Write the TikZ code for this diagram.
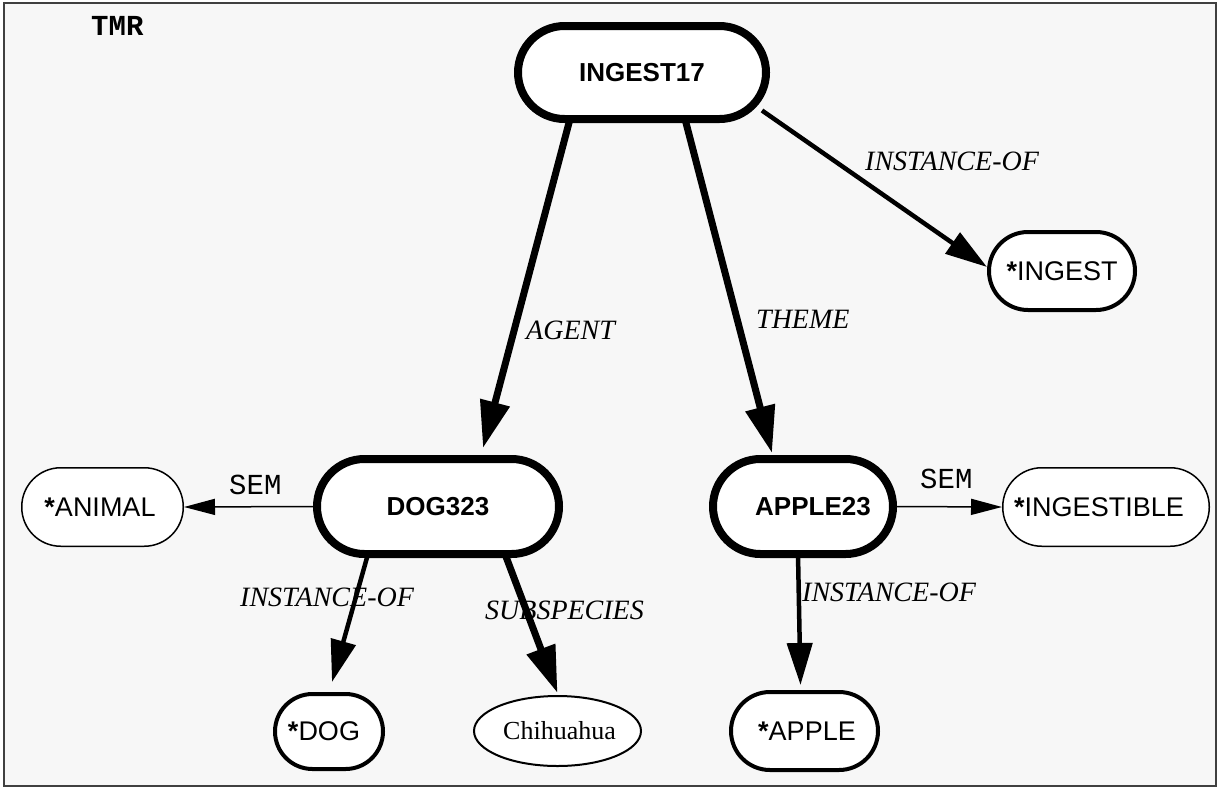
\documentclass[tikz,border=0pt]{standalone}
\usepackage{fontspec}
\setmainfont{Liberation Serif}
\setsansfont{Liberation Sans}
\setmonofont{Liberation Mono}
\usetikzlibrary{shapes.geometric,arrows.meta}

\definecolor{panel}{HTML}{F7F7F7}

\begin{document}
\begin{tikzpicture}[x=1pt,y=-1pt,
  every node/.style={inner sep=0pt},
  % concept boxes (stadium shapes)
  event/.style={rectangle, draw, fill=white, line width=8pt,
    font=\fontsize{26}{30}\selectfont\sffamily\bfseries},
  concept/.style={rectangle, draw, fill=white, line width=4pt,
    font=\fontsize{27}{30}\selectfont\sffamily},
  semclass/.style={rectangle, draw, fill=white, line width=1.5pt,
    font=\fontsize{27}{30}\selectfont\sffamily},
  % connectors
  heavyarrow/.style={line width=7pt, -{Triangle[length=47pt,width=29pt]}},
  instarrow/.style={line width=4.5pt, -{Triangle[length=42pt,width=25pt]}},
  semarrow/.style={line width=1.5pt, -{Triangle[length=31pt,width=16pt]}},
  % connector labels
  rel/.style={anchor=base west, font=\fontsize{28}{32}\selectfont\itshape},
  semlab/.style={anchor=base west, font=\fontsize{29}{32}\selectfont\ttfamily},
]
\fill[white] (0,0) rectangle (1221,788);
\useasboundingbox (0,0) rectangle (1221,788);

% panel
\draw[line width=1.5pt, draw=black!75, fill=panel] (4,3) rectangle (1216,786);
\node[anchor=base west, font=\fontsize{29}{32}\selectfont\ttfamily\bfseries] (tmr) at (91,35) {TMR};

% instances
\node[event, minimum width=248pt, minimum height=93pt, rounded corners=46.5pt] (ingest17) at (642,72.5) {INGEST17};
\node[event, minimum width=242pt, minimum height=95pt, rounded corners=47.5pt] (dog323) at (438,506.5) {DOG323};
\node[event, minimum width=180pt, minimum height=95pt, rounded corners=47.5pt] (apple23) at (803,506.5) {\hspace*{20pt}APPLE23};

% ontology concepts
\node[concept, minimum width=146pt, minimum height=78pt, rounded corners=39pt] (instingest) at (1062,271) {{\bfseries *}INGEST};
\node[concept, minimum width=108pt, minimum height=75pt, rounded corners=37.5pt] (dogc) at (329,731.5) {{\bfseries *}DOG\hspace*{10pt}};
\node[concept, minimum width=147pt, minimum height=78pt, rounded corners=39pt] (applec) at (804.5,731) {\hspace*{5pt}{\bfseries *}APPLE};
\node[semclass, minimum width=161.5pt, minimum height=78.5pt, rounded corners=39pt] (animal) at (102.5,507) {{\bfseries *}ANIMAL\hspace*{5pt}};
\node[semclass, minimum width=206.5pt, minimum height=78.5pt, rounded corners=39pt] (ingestible) at (1106,507) {{\bfseries *}INGESTIBLE\hspace*{14pt}};
\node[ellipse, draw, fill=white, line width=2pt, minimum width=167pt, minimum height=70pt,
  font=\fontsize{26}{30}\selectfont\rmfamily] (chihuahua) at (557.5,731) {\hspace*{4pt}Chihuahua};

% relations
\draw[heavyarrow] ([xshift=-72pt,yshift=4pt]ingest17.south) -- ([xshift=45pt,yshift=7pt]dog323.north);
\draw[heavyarrow] ([xshift=43pt,yshift=4pt]ingest17.south) -- ([xshift=-31pt,yshift=2pt]apple23.north);
\draw[instarrow] ([xshift=-8pt,yshift=-38pt]ingest17.east) -- ([yshift=4pt]instingest.west);
\draw[semarrow] (dog323.west) -- (animal.east);
\draw[semarrow] (apple23.east) -- (ingestible.west);
\draw[instarrow] ([xshift=-70pt,yshift=4pt]dog323.south) -- ([xshift=3pt,yshift=10pt]dogc.north);
\draw[heavyarrow] ([xshift=67pt,yshift=4pt]dog323.south) -- ([yshift=2pt]chihuahua.north);
\draw[instarrow] ([xshift=-5pt,yshift=4pt]apple23.south) -- ([xshift=-4pt,yshift=5pt]applec.north);

% relation labels
\node[rel] (lagent) at (526,339) {AGENT};
\node[rel] (ltheme) at (756,328) {THEME};
\node[rel] (linst1) at (865,170) {INSTANCE-OF};
\node[rel] (linst2) at (240,606) {INSTANCE-OF};
\node[rel] (lsub) at (485,619) {SUBSPECIES};
\node[rel] (linst3) at (802,601) {INSTANCE-OF};
\node[semlab] (lsem1) at (229,494) {SEM};
\node[semlab] (lsem2) at (920,488) {SEM};
\end{tikzpicture}
\end{document}
